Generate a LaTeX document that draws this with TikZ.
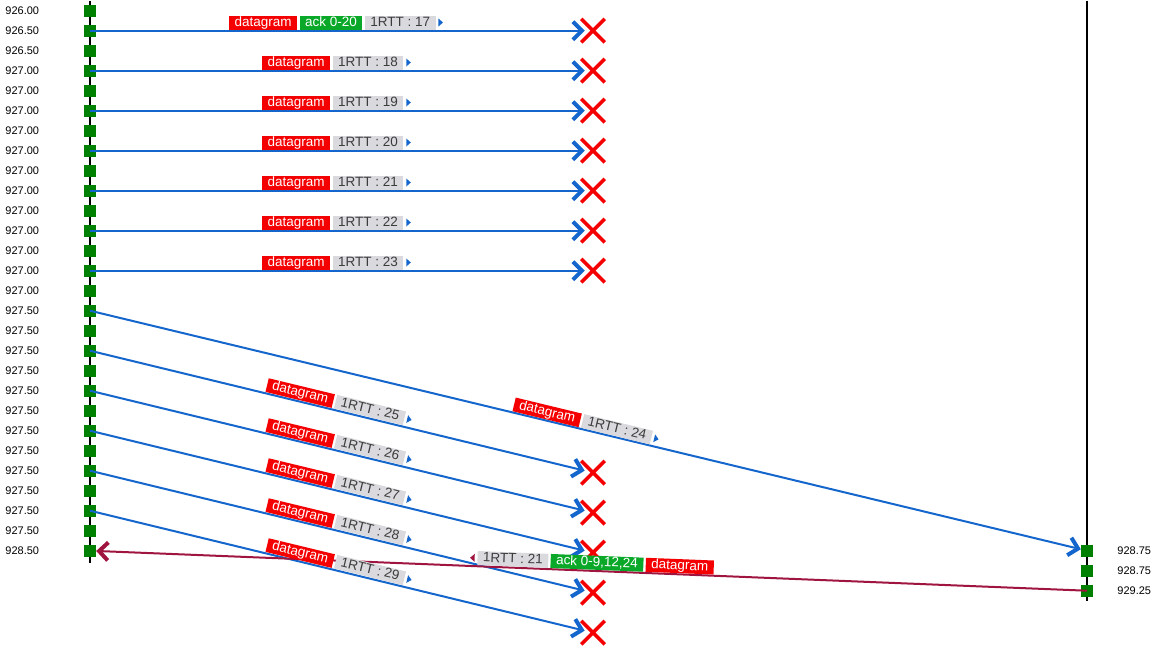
\documentclass[tikz,border=0pt]{standalone}
\usepackage{fontspec}
\setmainfont{Liberation Sans}
\usetikzlibrary{positioning,arrows.meta,shapes.misc,shapes.geometric}
\definecolor{msgblue}{RGB}{20,102,204}
\definecolor{msgred}{RGB}{245,0,0}
\definecolor{ackgreen}{RGB}{10,168,40}
\definecolor{rttgray}{RGB}{217,217,222}
\definecolor{rtttext}{RGB}{60,60,60}
\definecolor{evgreen}{RGB}{0,128,0}
\definecolor{backred}{RGB}{160,20,64}

\begin{document}
\begin{tikzpicture}[x=1pt, y=1pt,
        evt/.style={fill=evgreen, minimum size=12pt, inner sep=0pt},
        tlabel/.style={font=\fontsize{11}{13}\selectfont, inner sep=0pt},
        lbox/.style={font=\fontsize{13.5}{15}\selectfont, inner xsep=5.5pt, inner ysep=1pt, text height=9.5pt, text depth=2.5pt},
        dgram/.style={lbox, fill=msgred, text=white},
        ackbox/.style={lbox, fill=ackgreen, text=white},
        rtt/.style={lbox, fill=rttgray, text=rtttext},
        dirtip/.style={isosceles triangle, isosceles triangle stretches, inner sep=0pt, minimum width=8pt, minimum height=4.5pt},
        lost/.style={cross out, draw=msgred, line width=3.5pt, minimum width=20pt, minimum height=20pt, inner sep=0pt},
        sent/.style={draw=msgblue, line width=2pt, -{Straight Barb[length=9pt, width=18pt, line width=2pt 1]}},
        sentlost/.style={sent, shorten >=-3.5pt},
        back/.style={draw=backred, line width=2pt, -{Straight Barb[length=9pt, width=18pt, line width=2pt 1]}}
    ]
            \useasboundingbox (0,0.7) rectangle (1167,-655.3);

            \coordinate (ltop) at (90,0);
            \coordinate (lbot) at (90,-562);
            \coordinate (rtop) at (1087,0);
            \coordinate (rbot) at (1087,-600);
            \draw[line width=2pt] (ltop) -- (lbot);
            \draw[line width=2pt] (rtop) -- (rbot);

            \node[evt, label={[tlabel, label distance=44.5pt]left:926.00}] (a1) at (90,-10) {};
            \node[evt, label={[tlabel, label distance=44.5pt]left:926.50}] (a2) at (90,-30) {};
            \node[evt, label={[tlabel, label distance=44.5pt]left:926.50}] (a3) at (90,-50) {};
            \node[evt, label={[tlabel, label distance=44.5pt]left:927.00}] (a4) at (90,-70) {};
            \node[evt, label={[tlabel, label distance=44.5pt]left:927.00}] (a5) at (90,-90) {};
            \node[evt, label={[tlabel, label distance=44.5pt]left:927.00}] (a6) at (90,-110) {};
            \node[evt, label={[tlabel, label distance=44.5pt]left:927.00}] (a7) at (90,-130) {};
            \node[evt, label={[tlabel, label distance=44.5pt]left:927.00}] (a8) at (90,-150) {};
            \node[evt, label={[tlabel, label distance=44.5pt]left:927.00}] (a9) at (90,-170) {};
            \node[evt, label={[tlabel, label distance=44.5pt]left:927.00}] (a10) at (90,-190) {};
            \node[evt, label={[tlabel, label distance=44.5pt]left:927.00}] (a11) at (90,-210) {};
            \node[evt, label={[tlabel, label distance=44.5pt]left:927.00}] (a12) at (90,-230) {};
            \node[evt, label={[tlabel, label distance=44.5pt]left:927.00}] (a13) at (90,-250) {};
            \node[evt, label={[tlabel, label distance=44.5pt]left:927.00}] (a14) at (90,-270) {};
            \node[evt, label={[tlabel, label distance=44.5pt]left:927.00}] (a15) at (90,-290) {};
            \node[evt, label={[tlabel, label distance=44.5pt]left:927.50}] (a16) at (90,-310) {};
            \node[evt, label={[tlabel, label distance=44.5pt]left:927.50}] (a17) at (90,-330) {};
            \node[evt, label={[tlabel, label distance=44.5pt]left:927.50}] (a18) at (90,-350) {};
            \node[evt, label={[tlabel, label distance=44.5pt]left:927.50}] (a19) at (90,-370) {};
            \node[evt, label={[tlabel, label distance=44.5pt]left:927.50}] (a20) at (90,-390) {};
            \node[evt, label={[tlabel, label distance=44.5pt]left:927.50}] (a21) at (90,-410) {};
            \node[evt, label={[tlabel, label distance=44.5pt]left:927.50}] (a22) at (90,-430) {};
            \node[evt, label={[tlabel, label distance=44.5pt]left:927.50}] (a23) at (90,-450) {};
            \node[evt, label={[tlabel, label distance=44.5pt]left:927.50}] (a24) at (90,-470) {};
            \node[evt, label={[tlabel, label distance=44.5pt]left:927.50}] (a25) at (90,-490) {};
            \node[evt, label={[tlabel, label distance=44.5pt]left:927.50}] (a26) at (90,-510) {};
            \node[evt, label={[tlabel, label distance=44.5pt]left:927.50}] (a27) at (90,-530) {};
            \node[evt, label={[tlabel, label distance=44.5pt]left:928.50}] (a28) at (90,-550) {};

            \node[evt, label={[tlabel, label distance=24pt]right:928.75}] (b1) at (1087,-550) {};
            \node[evt, label={[tlabel, label distance=24pt]right:928.75}] (b2) at (1087,-570) {};
            \node[evt, label={[tlabel, label distance=24pt]right:929.25}] (b3) at (1087,-590) {};

            \node[lost] (x17) at (593,-30) {};
            \node[lost] (x18) at (593,-70) {};
            \node[lost] (x19) at (593,-110) {};
            \node[lost] (x20) at (593,-150) {};
            \node[lost] (x21) at (593,-190) {};
            \node[lost] (x22) at (593,-230) {};
            \node[lost] (x23) at (593,-270) {};
            \node[lost] (x25) at (593,-472) {};
            \node[lost] (x26) at (593,-512) {};
            \node[lost] (x27) at (593,-552) {};
            \node[lost] (x28) at (593,-592) {};
            \node[lost] (x29) at (593,-632) {};

            \draw[sentlost] (a2.center) -- (x17);
            \draw[sentlost] (a4.center) -- (x18);
            \draw[sentlost] (a6.center) -- (x19);
            \draw[sentlost] (a8.center) -- (x20);
            \draw[sentlost] (a10.center) -- (x21);
            \draw[sentlost] (a12.center) -- (x22);
            \draw[sentlost] (a14.center) -- (x23);
            \draw[sent] (a16.center) -- (b1);
            \draw[sentlost] (a18.center) -- (x25);
            \draw[sentlost] (a20.center) -- (x26);
            \draw[sentlost] (a22.center) -- (x27);
            \draw[sentlost] (a24.center) -- (x28);
            \draw[sentlost] (a26.center) -- (x29);
            \draw[back] (b3.center) -- (a28);

            \node[dgram, anchor=south west] (d17) at (229,-29) {datagram};
            \node[ackbox, right=2pt of d17] (k17) {ack 0-20};
            \node[rtt, right=2pt of k17] (r17) {1RTT : 17};
            \node[dirtip, fill=msgblue, right=2.5pt of r17] (t17) {};

            \node[dgram, anchor=south west] (d18) at (262,-69) {datagram};
            \node[rtt, right=2pt of d18] (r18) {1RTT : 18};
            \node[dirtip, fill=msgblue, right=2.5pt of r18] (t18) {};

            \node[dgram, anchor=south west] (d19) at (262,-109) {datagram};
            \node[rtt, right=2pt of d19] (r19) {1RTT : 19};
            \node[dirtip, fill=msgblue, right=2.5pt of r19] (t19) {};

            \node[dgram, anchor=south west] (d20) at (262,-149) {datagram};
            \node[rtt, right=2pt of d20] (r20) {1RTT : 20};
            \node[dirtip, fill=msgblue, right=2.5pt of r20] (t20) {};

            \node[dgram, anchor=south west] (d21) at (262,-189) {datagram};
            \node[rtt, right=2pt of d21] (r21) {1RTT : 21};
            \node[dirtip, fill=msgblue, right=2.5pt of r21] (t21) {};

            \node[dgram, anchor=south west] (d22) at (262,-229) {datagram};
            \node[rtt, right=2pt of d22] (r22) {1RTT : 22};
            \node[dirtip, fill=msgblue, right=2.5pt of r22] (t22) {};

            \node[dgram, anchor=south west] (d23) at (262,-269) {datagram};
            \node[rtt, right=2pt of d23] (r23) {1RTT : 23};
            \node[dirtip, fill=msgblue, right=2.5pt of r23] (t23) {};

            \begin{scope}[shift={(512,-411.6)}, rotate=-13.6, transform shape]
                \node[dgram, anchor=south west] (d24) at (0,1) {datagram};
                \node[rtt, right=2pt of d24] (r24) {1RTT : 24};
                \node[dirtip, fill=msgblue, right=2.5pt of r24] (t24) {};
            \end{scope}
            \begin{scope}[shift={(265,-392.3)}, rotate=-13.6, transform shape]
                \node[dgram, anchor=south west] (d25) at (0,1) {datagram};
                \node[rtt, right=2pt of d25] (r25) {1RTT : 25};
                \node[dirtip, fill=msgblue, right=2.5pt of r25] (t25) {};
            \end{scope}
            \begin{scope}[shift={(265,-432.3)}, rotate=-13.6, transform shape]
                \node[dgram, anchor=south west] (d26) at (0,1) {datagram};
                \node[rtt, right=2pt of d26] (r26) {1RTT : 26};
                \node[dirtip, fill=msgblue, right=2.5pt of r26] (t26) {};
            \end{scope}
            \begin{scope}[shift={(265,-472.3)}, rotate=-13.6, transform shape]
                \node[dgram, anchor=south west] (d27) at (0,1) {datagram};
                \node[rtt, right=2pt of d27] (r27) {1RTT : 27};
                \node[dirtip, fill=msgblue, right=2.5pt of r27] (t27) {};
            \end{scope}
            \begin{scope}[shift={(265,-512.3)}, rotate=-13.6, transform shape]
                \node[dgram, anchor=south west] (d28) at (0,1) {datagram};
                \node[rtt, right=2pt of d28] (r28) {1RTT : 28};
                \node[dirtip, fill=msgblue, right=2.5pt of r28] (t28) {};
            \end{scope}
            \begin{scope}[shift={(265,-552.3)}, rotate=-13.6, transform shape]
                \node[dgram, anchor=south west] (d29) at (0,1) {datagram};
                \node[rtt, right=2pt of d29] (r29) {1RTT : 29};
                \node[dirtip, fill=msgblue, right=2.5pt of r29] (t29) {};
            \end{scope}

            \begin{scope}[shift={(477,-565.5)}, rotate=-2.3, transform shape]
                \node[rtt, anchor=south west] (rb) at (0,1) {1RTT : 21};
                \node[ackbox, right=2pt of rb] (kb) {ack 0-9,12,24};
                \node[dgram, right=2pt of kb] (db) {datagram};
                \node[dirtip, fill=backred, shape border rotate=180, left=2.5pt of rb] (tb) {};
            \end{scope}
        \end{tikzpicture}
\end{document}
